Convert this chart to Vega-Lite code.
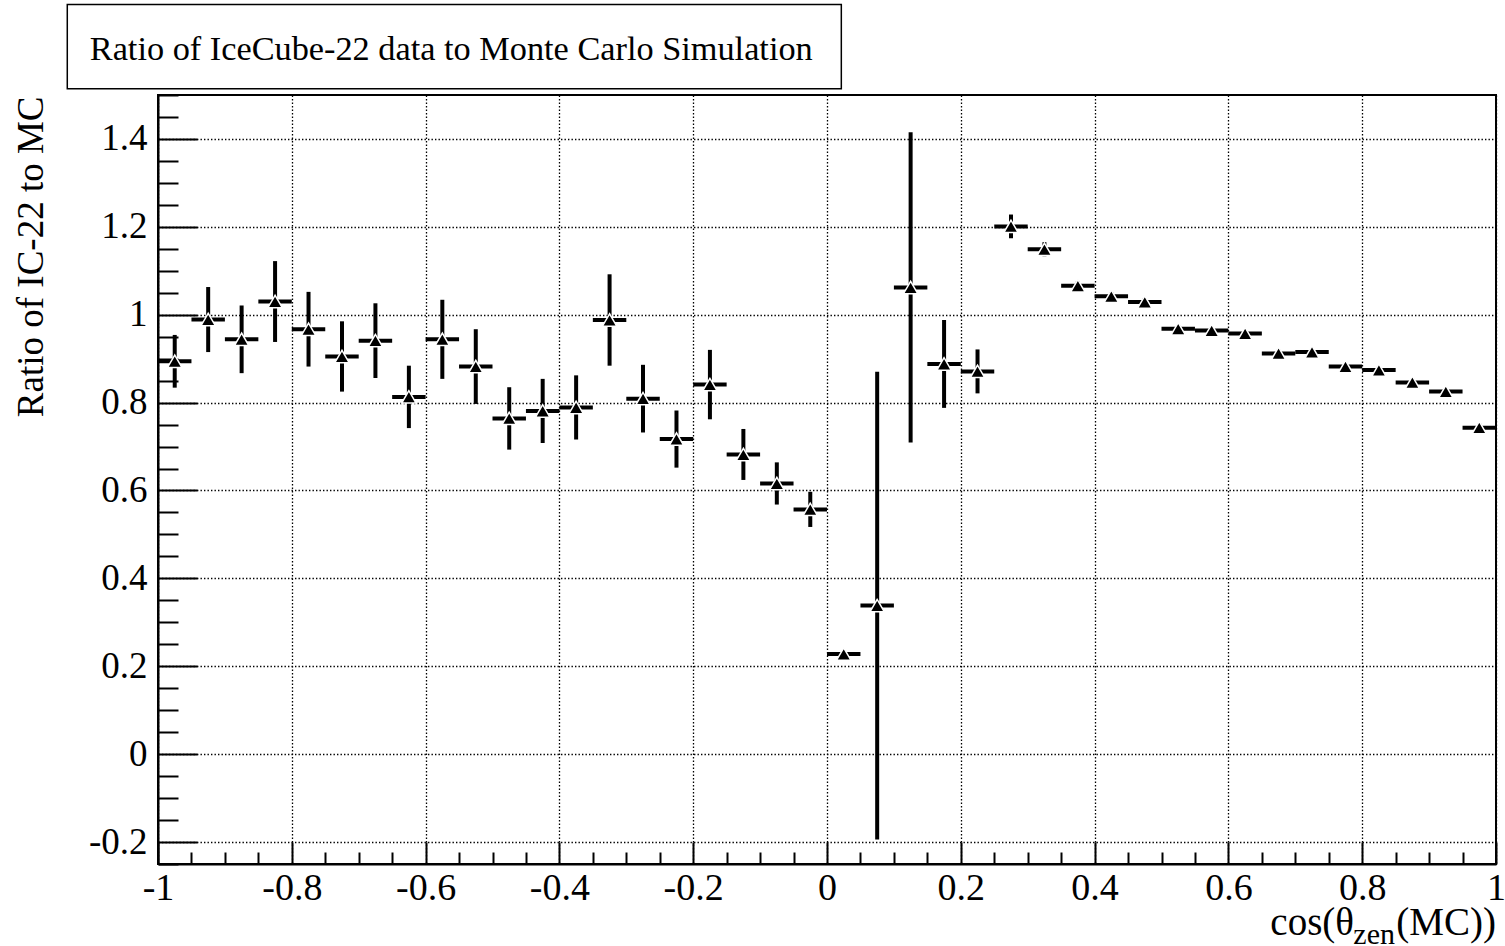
{
  "$schema": "https://vega.github.io/schema/vega-lite/v6.json",
  "width": 1338,
  "height": 769,
  "autosize": {"type": "none"},
  "padding": {"left": 158, "top": 95, "right": 9, "bottom": 82},
  "background": "white",
  "config": {
    "view": {"stroke": "black", "strokeWidth": 2},
    "font": "Liberation Serif",
    "axis": {
      "domainColor": "black",
      "domainWidth": 2,
      "tickColor": "black",
      "tickWidth": 2,
      "gridColor": "black",
      "gridDash": [1.4, 2.1],
      "gridWidth": 1.3,
      "labelColor": "black",
      "labelFont": "Liberation Serif",
      "titleFont": "Liberation Serif",
      "titleColor": "black",
      "titleFontWeight": "normal",
      "labelOverlap": false,
      "labelFlush": false
    }
  },
  "datasets": {
    "ratio": [
      {"cosZen": -0.975, "binLo": -1.0, "binHi": -0.95, "ratio": 0.894, "ratioLo": 0.834, "ratioHi": 0.954},
      {"cosZen": -0.925, "binLo": -0.95, "binHi": -0.9, "ratio": 0.989, "ratioLo": 0.915, "ratioHi": 1.063},
      {"cosZen": -0.875, "binLo": -0.9, "binHi": -0.85, "ratio": 0.944, "ratioLo": 0.867, "ratioHi": 1.021},
      {"cosZen": -0.825, "binLo": -0.85, "binHi": -0.8, "ratio": 1.030, "ratioLo": 0.938, "ratioHi": 1.122},
      {"cosZen": -0.775, "binLo": -0.8, "binHi": -0.75, "ratio": 0.967, "ratioLo": 0.882, "ratioHi": 1.052},
      {"cosZen": -0.725, "binLo": -0.75, "binHi": -0.7, "ratio": 0.905, "ratioLo": 0.825, "ratioHi": 0.985},
      {"cosZen": -0.675, "binLo": -0.7, "binHi": -0.65, "ratio": 0.941, "ratioLo": 0.856, "ratioHi": 1.026},
      {"cosZen": -0.625, "binLo": -0.65, "binHi": -0.6, "ratio": 0.813, "ratioLo": 0.742, "ratioHi": 0.884},
      {"cosZen": -0.575, "binLo": -0.6, "binHi": -0.55, "ratio": 0.944, "ratioLo": 0.854, "ratioHi": 1.034},
      {"cosZen": -0.525, "binLo": -0.55, "binHi": -0.5, "ratio": 0.882, "ratioLo": 0.797, "ratioHi": 0.967},
      {"cosZen": -0.475, "binLo": -0.5, "binHi": -0.45, "ratio": 0.764, "ratioLo": 0.693, "ratioHi": 0.835},
      {"cosZen": -0.425, "binLo": -0.45, "binHi": -0.4, "ratio": 0.781, "ratioLo": 0.708, "ratioHi": 0.854},
      {"cosZen": -0.375, "binLo": -0.4, "binHi": -0.35, "ratio": 0.789, "ratioLo": 0.716, "ratioHi": 0.862},
      {"cosZen": -0.325, "binLo": -0.35, "binHi": -0.3, "ratio": 0.988, "ratioLo": 0.884, "ratioHi": 1.092},
      {"cosZen": -0.275, "binLo": -0.3, "binHi": -0.25, "ratio": 0.809, "ratioLo": 0.732, "ratioHi": 0.886},
      {"cosZen": -0.225, "binLo": -0.25, "binHi": -0.2, "ratio": 0.717, "ratioLo": 0.652, "ratioHi": 0.782},
      {"cosZen": -0.175, "binLo": -0.2, "binHi": -0.15, "ratio": 0.841, "ratioLo": 0.762, "ratioHi": 0.920},
      {"cosZen": -0.125, "binLo": -0.15, "binHi": -0.1, "ratio": 0.682, "ratioLo": 0.624, "ratioHi": 0.740},
      {"cosZen": -0.075, "binLo": -0.1, "binHi": -0.05, "ratio": 0.616, "ratioLo": 0.568, "ratioHi": 0.664},
      {"cosZen": -0.025, "binLo": -0.05, "binHi": 0.0, "ratio": 0.557, "ratioLo": 0.517, "ratioHi": 0.597},
      {"cosZen": 0.025, "binLo": 0.0, "binHi": 0.05, "ratio": 0.228, "ratioLo": 0.223, "ratioHi": 0.233},
      {"cosZen": 0.075, "binLo": 0.05, "binHi": 0.1, "ratio": 0.338, "ratioLo": -0.194, "ratioHi": 0.870},
      {"cosZen": 0.125, "binLo": 0.1, "binHi": 0.15, "ratio": 1.062, "ratioLo": 0.709, "ratioHi": 1.415},
      {"cosZen": 0.175, "binLo": 0.15, "binHi": 0.2, "ratio": 0.888, "ratioLo": 0.788, "ratioHi": 0.988},
      {"cosZen": 0.225, "binLo": 0.2, "binHi": 0.25, "ratio": 0.871, "ratioLo": 0.821, "ratioHi": 0.921},
      {"cosZen": 0.275, "binLo": 0.25, "binHi": 0.3, "ratio": 1.201, "ratioLo": 1.174, "ratioHi": 1.228},
      {"cosZen": 0.325, "binLo": 0.3, "binHi": 0.35, "ratio": 1.149, "ratioLo": 1.133, "ratioHi": 1.165},
      {"cosZen": 0.375, "binLo": 0.35, "binHi": 0.4, "ratio": 1.066, "ratioLo": 1.056, "ratioHi": 1.076},
      {"cosZen": 0.425, "binLo": 0.4, "binHi": 0.45, "ratio": 1.042, "ratioLo": 1.033, "ratioHi": 1.051},
      {"cosZen": 0.475, "binLo": 0.45, "binHi": 0.5, "ratio": 1.029, "ratioLo": 1.020, "ratioHi": 1.038},
      {"cosZen": 0.525, "binLo": 0.5, "binHi": 0.55, "ratio": 0.968, "ratioLo": 0.960, "ratioHi": 0.976},
      {"cosZen": 0.575, "binLo": 0.55, "binHi": 0.6, "ratio": 0.964, "ratioLo": 0.956, "ratioHi": 0.972},
      {"cosZen": 0.625, "binLo": 0.6, "binHi": 0.65, "ratio": 0.957, "ratioLo": 0.949, "ratioHi": 0.965},
      {"cosZen": 0.675, "binLo": 0.65, "binHi": 0.7, "ratio": 0.912, "ratioLo": 0.904, "ratioHi": 0.920},
      {"cosZen": 0.725, "binLo": 0.7, "binHi": 0.75, "ratio": 0.915, "ratioLo": 0.907, "ratioHi": 0.923},
      {"cosZen": 0.775, "binLo": 0.75, "binHi": 0.8, "ratio": 0.882, "ratioLo": 0.874, "ratioHi": 0.890},
      {"cosZen": 0.825, "binLo": 0.8, "binHi": 0.85, "ratio": 0.874, "ratioLo": 0.866, "ratioHi": 0.882},
      {"cosZen": 0.875, "binLo": 0.85, "binHi": 0.9, "ratio": 0.846, "ratioLo": 0.838, "ratioHi": 0.854},
      {"cosZen": 0.925, "binLo": 0.9, "binHi": 0.95, "ratio": 0.825, "ratioLo": 0.817, "ratioHi": 0.833},
      {"cosZen": 0.975, "binLo": 0.95, "binHi": 1.0, "ratio": 0.743, "ratioLo": 0.734, "ratioHi": 0.752}
    ]
  },
  "data": {"name": "ratio"},
  "layer": [
    {
      "mark": {"type": "rule", "strokeWidth": 4, "color": "black"},
      "encoding": {
        "x": {
          "field": "binLo",
          "type": "quantitative",
          "scale": {"domain": [-1, 1], "nice": false, "zero": false},
          "axis": {
            "title": null,
            "tickCount": 200,
            "values": [-1, -0.95, -0.9, -0.85, -0.8, -0.75, -0.7, -0.65, -0.6, -0.55, -0.5, -0.45, -0.4, -0.35, -0.3, -0.25, -0.2, -0.15, -0.1, -0.05, 0, 0.05, 0.1, 0.15, 0.2, 0.25, 0.3, 0.35, 0.4, 0.45, 0.5, 0.55, 0.6, 0.65, 0.7, 0.75, 0.8, 0.85, 0.9, 0.95, 1],
            "tickSize": {"condition": {"test": "abs(datum.value * 5 - round(datum.value * 5)) < 0.001", "value": -22}, "value": -12},
            "gridOpacity": {"condition": {"test": "abs(datum.value * 5 - round(datum.value * 5)) < 0.001", "value": 1}, "value": 0},
            "labelExpr": "abs(datum.value * 5 - round(datum.value * 5)) < 0.001 ? '' + round(datum.value * 10) / 10 : ''",
            "labelFontSize": 38,
            "labelPadding": 27,
            "labelBaseline": "top"
          }
        },
        "x2": {"field": "binHi"},
        "y": {
          "field": "ratio",
          "type": "quantitative",
          "scale": {"domain": [-0.25, 1.5], "nice": false, "zero": false},
          "axis": {
            "title": "Ratio of IC-22 to MC",
            "titleFontSize": 37,
            "titleAngle": 270,
            "titleAlign": "right",
            "titleBaseline": "middle",
            "titleX": -127,
            "titleY": 1,
            "tickCount": 200,
            "values": [-0.25, -0.2, -0.15, -0.1, -0.05, 0, 0.05, 0.1, 0.15, 0.2, 0.25, 0.3, 0.35, 0.4, 0.45, 0.5, 0.55, 0.6, 0.65, 0.7, 0.75, 0.8, 0.85, 0.9, 0.95, 1, 1.05, 1.1, 1.15, 1.2, 1.25, 1.3, 1.35, 1.4, 1.45, 1.5],
            "tickSize": {"condition": {"test": "abs(datum.value * 5 - round(datum.value * 5)) < 0.001", "value": -39}, "value": -20},
            "gridOpacity": {"condition": {"test": "abs(datum.value * 5 - round(datum.value * 5)) < 0.001", "value": 1}, "value": 0},
            "labelExpr": "abs(datum.value * 5 - round(datum.value * 5)) < 0.001 ? '' + round(datum.value * 10) / 10 : ''",
            "labelFontSize": 37,
            "labelPadding": 50,
            "labelAlign": "right",
            "labelBaseline": "middle"
          }
        }
      }
    },
    {
      "mark": {"type": "rule", "strokeWidth": 4, "color": "black"},
      "encoding": {
        "x": {"field": "cosZen", "type": "quantitative"},
        "y": {"field": "ratioLo", "type": "quantitative"},
        "y2": {"field": "ratioHi"}
      }
    },
    {
      "mark": {"type": "point", "shape": "triangle-up", "filled": true, "fill": "black", "stroke": "white", "strokeWidth": 1.5, "size": 205, "opacity": 1},
      "encoding": {
        "x": {"field": "cosZen", "type": "quantitative"},
        "y": {"field": "ratio", "type": "quantitative"}
      }
    },
    {
      "data": {"values": [{}]},
      "mark": {"type": "rect", "fill": "white", "stroke": "black", "strokeWidth": 1.5},
      "encoding": {
        "x": {"datum": -1.1356, "type": "quantitative"},
        "x2": {"datum": 0.0214},
        "y": {"datum": 1.7057, "type": "quantitative"},
        "y2": {"datum": 1.5144}
      }
    },
    {
      "data": {"values": [{}]},
      "mark": {"type": "text", "text": "Ratio of IceCube-22 data to Monte Carlo Simulation", "align": "left", "baseline": "middle", "font": "Liberation Serif", "fontSize": 34.3, "color": "black"},
      "encoding": {
        "x": {"datum": -1.102, "type": "quantitative"},
        "y": {"datum": 1.6032, "type": "quantitative"}
      }
    },
    {
      "data": {"values": [{}]},
      "mark": {"type": "text", "text": "(MC))", "align": "right", "baseline": "alphabetic", "dy": 71, "font": "Liberation Serif", "fontSize": 39, "color": "black"},
      "encoding": {
        "x": {"datum": 1, "type": "quantitative"},
        "y": {"datum": -0.25, "type": "quantitative"}
      }
    },
    {
      "data": {"values": [{}]},
      "mark": {"type": "text", "text": "zen", "align": "right", "baseline": "alphabetic", "dx": -101, "dy": 80, "font": "Liberation Serif", "fontSize": 30, "color": "black"},
      "encoding": {
        "x": {"datum": 1, "type": "quantitative"},
        "y": {"datum": -0.25, "type": "quantitative"}
      }
    },
    {
      "data": {"values": [{}]},
      "mark": {"type": "text", "text": "cos(θ", "align": "right", "baseline": "alphabetic", "dx": -142, "dy": 71, "font": "Liberation Serif", "fontSize": 39, "color": "black"},
      "encoding": {
        "x": {"datum": 1, "type": "quantitative"},
        "y": {"datum": -0.25, "type": "quantitative"}
      }
    }
  ]
}
